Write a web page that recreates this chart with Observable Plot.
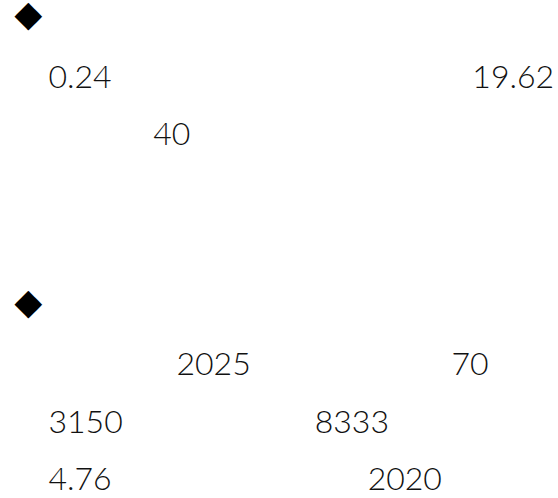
<!DOCTYPE html>
<html>
<head>
<meta charset="utf-8">
<script src="https://cdn.jsdelivr.net/npm/d3@7"></script>
<script src="https://cdn.jsdelivr.net/npm/@observablehq/plot@0.6"></script>
<style>
  html, body { margin: 0; padding: 0; background: #fff; }
  #chart { width: 558px; height: 498px; }
</style>
</head>
<body>
<div id="chart"></div>
<script>
// Section bullets and the numbers that are legible in the reference.
// The characters around them are not rendered in the reference (blank glyphs),
// so they are kept as blanks: [full-width blanks, narrow blanks] before each number.
const bullets = ["◆", "◆"];
const bulletRows = [0, 5];
const numberRows = [1, 2, 6, 7, 8];
const numbers = [
  ["0.24", "19.62"],
  ["40"],
  ["2025", "70"],
  ["3150", "8333"],
  ["4.76", "2020"]
];
const blanksBefore = [
  [[1, 0], [11, 1]],
  [[4, 1]],
  [[5, 0], [6, 1]],
  [[1, 0], [6, 0]],
  [[1, 0], [8, 0]]
];
const rowCount = 9;

const WIDE = "\u3000", NARROW = " ";
const bulletLines = bullets.map((b, i) => ({row: bulletRows[i], text: b}));
const numberLines = numberRows.map((r, i) => ({
  row: r,
  text: numbers[i].map((n, j) => WIDE.repeat(blanksBefore[i][j][0]) + NARROW.repeat(blanksBefore[i][j][1]) + n).join("")
}));

const chart = Plot.plot({
  width: 558,
  height: 498,
  marginTop: 0,
  marginRight: 0,
  marginBottom: 0,
  marginLeft: 16,
  x: {axis: null},
  y: {axis: null, domain: [0, rowCount - 1], range: [29.5, 489.5]},
  marks: [
    Plot.text(bulletLines, {
      y: "row",
      text: "text",
      frameAnchor: "left",
      textAnchor: "start",
      lineAnchor: "bottom",
      dx: -2,
      dy: -4,
      fontSize: 36,
      fontFamily: "'DejaVu Sans', sans-serif",
      fill: "#000"
    }),
    Plot.text(numberLines, {
      y: "row",
      text: "text",
      frameAnchor: "left",
      textAnchor: "start",
      lineAnchor: "bottom",
      fontSize: 32,
      fontWeight: 300,
      fontFamily: "Lato, 'Noto Sans CJK SC', sans-serif",
      fill: "#111"
    })
  ]
});
document.getElementById("chart").appendChild(chart);
</script>
</body>
</html>
